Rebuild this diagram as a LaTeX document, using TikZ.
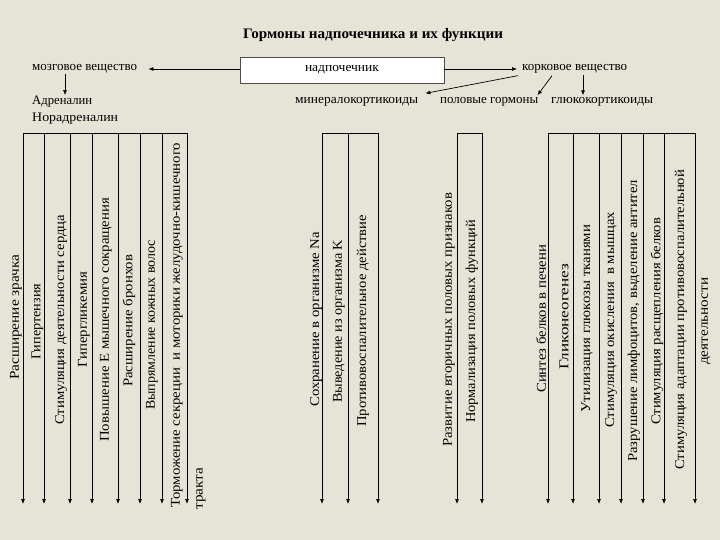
\documentclass[tikz,border=0pt]{standalone}
\usepackage{graphicx}
\usepackage{fontspec}
\setmainfont{Liberation Serif}
\usetikzlibrary{arrows.meta}
\definecolor{bg}{HTML}{E6E4D6}
\newsavebox\fitbox
\newcommand\fitto[2]{\sbox\fitbox{#2}\pgfmathsetmacro\fitfac{#1/\the\wd\fitbox}\scalebox{\fitfac}[1]{\usebox\fitbox}}
\tikzset{
  lab/.style={rotate=90, anchor=west, inner sep=0pt, font=\fontsize{13.5}{15}\selectfont},
  txt/.style={anchor=west, inner sep=0pt, font=\fontsize{13}{15}\selectfont},
  arr/.style={-{Latex[length=5pt,width=4pt]}, line width=0.7pt},
  bar/.style={line width=0.7pt}
}
\begin{document}
\begin{tikzpicture}[x=1pt, y=-1pt]
\fill[bg] (0,0) rectangle (720,540);
\useasboundingbox (0,0) rectangle (720,540);

\node[inner sep=0pt, font=\bfseries\fontsize{14.5}{16}\selectfont] (title) at (373,35) {\fitto{260}{Гормоны надпочечника и их функции}};
\node[draw=black!70, fill=white, minimum width=204pt, minimum height=26pt, inner sep=0pt, font=\fontsize{13}{15}\selectfont] (box) at (342,70) {\fitto{74}{надпочечник}};

\node[txt] (moz) at (32,69) {\fitto{105}{мозговое вещество}};
\node[txt] (kork) at (522,69) {\fitto{105}{корковое вещество}};
\node[txt] (adr) at (32,102) {\fitto{60}{Адреналин}};
\node[txt] (nor) at (32,119) {\fitto{86}{Норадреналин}};
\node[txt] (min) at (295,102) {\fitto{123}{минералокортикоиды}};
\node[txt] (pol) at (440,102) {\fitto{98}{половые гормоны}};
\node[txt] (glu) at (551,102) {\fitto{102}{глюкокортикоиды}};

\draw[arr] (box.west |- moz.east) -- ([xshift=11pt]moz.east);
\draw[arr] (box.east |- kork.west) -- ([xshift=-5pt]kork.west);
\draw[arr] ([xshift=33pt]moz.south west) -- ([xshift=33pt,yshift=1pt]adr.north west);
\draw[arr] ([xshift=-4pt,yshift=-2pt]kork.south west) -- ([xshift=7pt,yshift=4pt]min.north east);
\draw[arr] ([xshift=30pt,yshift=-2pt]kork.south west) -- ([xshift=-1pt,yshift=2pt]pol.north east);
\draw[arr] ([xshift=61pt,yshift=-1pt]kork.south west) -- ([xshift=32pt,yshift=2pt]glu.north west);

% left group
\foreach \n/\x in {1/23,2/44,3/70,4/92,5/118,6/140,7/162,8/187}{
  \coordinate (A\n) at (\x,133);
  \coordinate (AE\n) at (\x,504);
  \draw[arr] (A\n) -- (AE\n);
}
\draw[bar] (A1) -- (A8);
% middle groups
\foreach \n/\x in {1/322,2/348,3/378}{
  \coordinate (B\n) at (\x,133);
  \coordinate (BE\n) at (\x,504);
  \draw[arr] (B\n) -- (BE\n);
}
\draw[bar] (B1) -- (B3);
\foreach \n/\x in {1/457,2/482}{
  \coordinate (C\n) at (\x,133);
  \coordinate (CE\n) at (\x,504);
  \draw[arr] (C\n) -- (CE\n);
}
\draw[bar] (C1) -- (C2);
% right group
\foreach \n/\x in {1/548,2/573,3/599,4/621,5/643,6/664,7/695}{
  \coordinate (D\n) at (\x,133);
  \coordinate (DE\n) at (\x,504);
  \draw[arr] (D\n) -- (DE\n);
}
\draw[bar] (D1) -- (D7);

% labels left
\node[lab] (l1) at (16,380) {\fitto{125}{Расширение зрачка}};
\node[lab] (l2) at (37.5,360) {\fitto{76}{Гипертензия}};
\node[lab] (l3) at (61,425) {\fitto{210}{Стимуляция деятельности сердца}};
\node[lab] (l4) at (84,368) {\fitto{96}{Гипергликемия}};
\node[lab] (l5) at (106,442) {\fitto{244}{Повышение Е мышечного сокращения}};
\node[lab] (l6) at (129,387) {\fitto{132}{Расширение бронхов}};
\node[lab] (l7) at (152,410) {\fitto{170}{Выпрямление кожных волос}};
\node[lab] (l8) at (177,508) {\fitto{365}{Торможение секреции\ \ и моторики желудочно-кишечного}};
\node[lab] (l9) at (201,510) {\fitto{42}{тракта}};
% labels middle
\node[lab] (m1) at (316,407) {\fitto{175}{Сохранение в организме Na}};
\node[lab] (m2) at (339,403) {\fitto{163}{Выведение из организма K}};
\node[lab] (m3) at (363,427) {\fitto{212}{Противовоспалительное действие}};
\node[lab] (m4) at (449,447) {\fitto{254}{Развитие вторичных половых признаков}};
\node[lab] (m5) at (472,423) {\fitto{203}{Нормализация половых функций}};
% labels right
\node[lab] (r1) at (541,393) {\fitto{148}{Синтез белков в печени}};
\node[lab] (r2) at (564,370) {\fitto{106}{Гликонеогенез}};
\node[lab] (r3) at (587,413) {\fitto{188}{Утилизация глюкозы тканями}};
\node[lab] (r4) at (611,428) {\fitto{216}{Стимуляция окисления\ \ в мышцах}};
\node[lab] (r5) at (634,462) {\fitto{282}{Разрушение лимфоцитов, выделение антител}};
\node[lab] (r6) at (657,425) {\fitto{207}{Стимуляция расщепления белков}};
\node[lab] (r7) at (681,470) {\fitto{300}{Стимуляция адаптации противовоспалительной}};
\node[lab] (r8) at (706,365) {\fitto{87}{деятельности}};
\end{tikzpicture}
\end{document}
